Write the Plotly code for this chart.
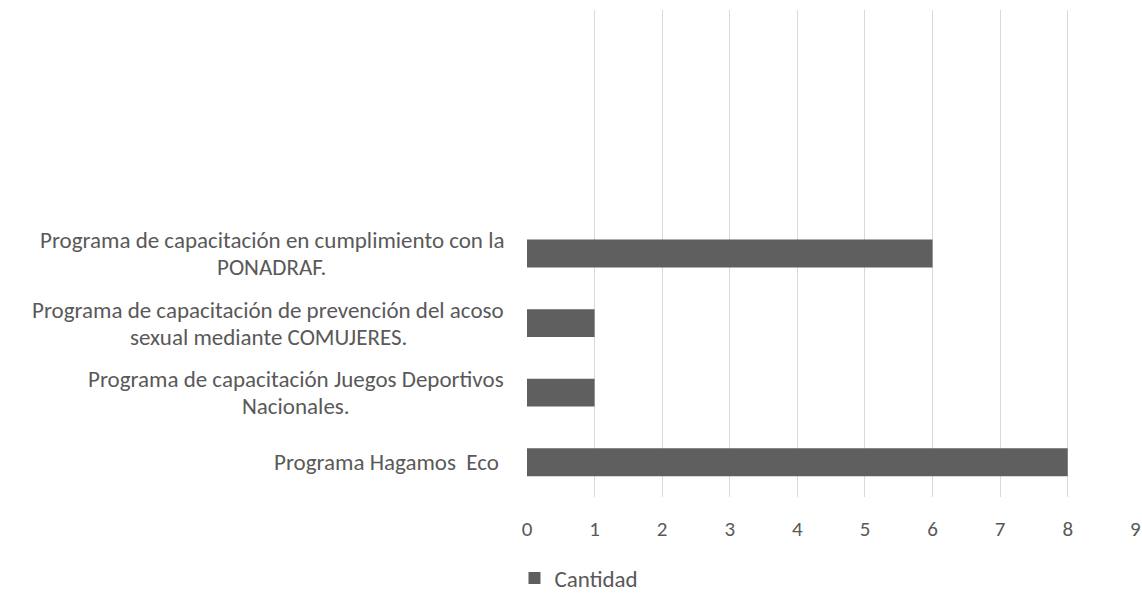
import plotly.graph_objects as go

categories = [
    "Programa Hagamos  Eco\u00a0",
    "Programa de capacitación Juegos Deportivos<br>Nacionales.",
    "Programa de capacitación de prevención del acoso<br>sexual mediante COMUJERES.",
    "Programa de capacitación en cumplimiento con la<br>PONADRAF.",
    " ",
    "  ",
    "   ",
]
values = [8, 1, 1, 6, None, None, None]
series_name = "Cantidad"
x_ticks = list(range(0, 10))

TEXT = "#595959"
FONT = "Carlito, Lato"
FS_LABEL = 23
FS_TICK = 21
LINE_GAP = 27

fig = go.Figure()
fig.add_trace(go.Bar(
    y=categories, x=values, orientation="h", name=series_name,
    marker=dict(color="#5f5f5f", line=dict(width=0)),
    showlegend=True,
))

# category labels: one annotation per line, Excel-like line spacing
annotations = []
for c in categories:
    if not c.strip():
        continue
    lines = c.split("<br>")
    n = len(lines)
    for i, line in enumerate(lines):
        shift = ((n - 1) / 2 - i) * LINE_GAP
        annotations.append(dict(
            text=line, x=0, xref="paper", y=c, yref="y",
            xanchor="right", yanchor="middle", xshift=-21, yshift=shift,
            showarrow=False, font=dict(family=FONT, size=FS_LABEL, color=TEXT),
        ))

fig.update_layout(
    width=1142, height=593,
    margin=dict(l=527, r=6, t=10, b=96),
    paper_bgcolor="white", plot_bgcolor="white",
    bargap=0.6,
    font=dict(family=FONT, size=FS_TICK, color=TEXT),
    annotations=annotations,
    legend=dict(
        orientation="h", xref="container", yref="container",
        x=0.507, xanchor="center", y=0.0253, yanchor="middle",
        font=dict(family=FONT, size=FS_LABEL, color=TEXT),
        itemwidth=30,
    ),
    xaxis=dict(
        range=[0, 9.01], tickvals=x_ticks, showgrid=True, gridcolor="#d9d9d9", gridwidth=1,
        zeroline=False, showline=False, ticks="", ticklabelstandoff=17, automargin=False,
        tickfont=dict(family=FONT, size=FS_TICK, color=TEXT),
    ),
    yaxis=dict(
        categoryorder="array", categoryarray=categories, showticklabels=False,
        showgrid=False, zeroline=False, showline=False, ticks="", automargin=False,
    ),
)

# body margin removal + center the lines of multi-line labels on each other
post = """
document.body.style.margin='0';
var gd = document.getElementsByClassName('plotly-graph-div')[0];
function centerLines(){
  var anns = gd.querySelectorAll('.annotation');
  var layoutAnns = gd.layout.annotations;
  var groups = {};
  for (var i=0;i<layoutAnns.length;i++){
    var k = String(layoutAnns[i].y);
    (groups[k] = groups[k] || []).push(i);
  }
  var updates = {};
  Object.keys(groups).forEach(function(k){
    var idx = groups[k];
    if (idx.length < 2) return;
    var widths = idx.map(function(i){
      var t = anns[i].querySelector('text');
      return t ? t.getBBox().width : 0;
    });
    var maxw = Math.max.apply(null, widths);
    idx.forEach(function(i, j){
      updates['annotations['+i+'].xshift'] = -21 - (maxw - widths[j]) / 2;
    });
  });
  Plotly.relayout(gd, updates);
}
setTimeout(centerLines, 50);
"""

fig.write_html("out.html", post_script=post, config={"displayModeBar": False})
